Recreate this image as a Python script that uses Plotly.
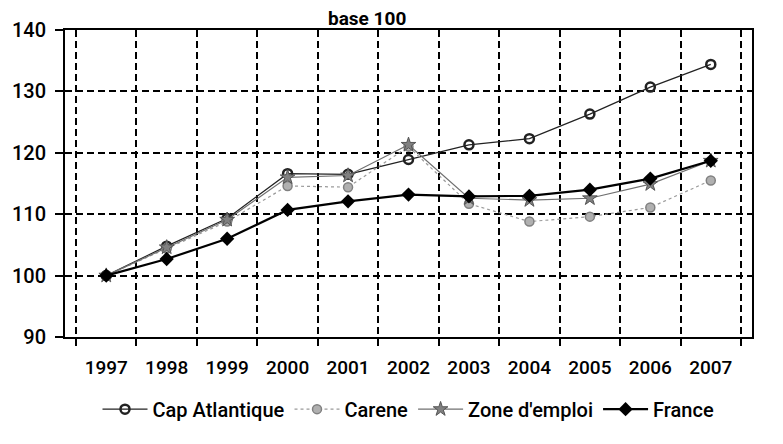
import plotly.graph_objects as go

years = ["1997", "1998", "1999", "2000", "2001", "2002", "2003", "2004", "2005", "2006", "2007"]
cap_atlantique = [100, 104.8, 109.3, 116.6, 116.5, 118.9, 121.3, 122.3, 126.3, 130.7, 134.4]
carene = [100, 104.4, 108.8, 114.6, 114.4, 121.0, 111.7, 108.8, 109.6, 111.1, 115.5]
zone_emploi = [100, 104.6, 109.1, 116.0, 116.3, 121.3, 112.6, 112.3, 112.6, 114.9, 118.7]
france = [100, 102.7, 106.0, 110.7, 112.1, 113.2, 112.9, 113.0, 114.0, 115.8, 118.7]
y_ticks = [90, 100, 110, 120, 130, 140]
title_text = "base 100"

FONT = "Roboto, Liberation Sans, sans-serif"

fig = go.Figure()
fig.add_trace(go.Scatter(
    x=years, y=cap_atlantique, name="Cap Atlantique", mode="lines+markers",
    line=dict(color="#222222", width=1.2),
    marker=dict(symbol="circle-open", size=9, color="#222222", line=dict(width=2.5)),
))
fig.add_trace(go.Scatter(
    x=years, y=carene, name="Carene", mode="lines+markers",
    line=dict(color="#9a9a9a", width=1.2, dash="dot"),
    marker=dict(symbol="circle", size=9, color="#b0b0b0", line=dict(color="#808080", width=1.5)),
))
fig.add_trace(go.Scatter(
    x=years, y=zone_emploi, name="Zone d'emploi", mode="lines+markers",
    line=dict(color="#707070", width=1.2),
    marker=dict(symbol="star", size=11, color="#808080", line=dict(color="#555555", width=1)),
))
fig.add_trace(go.Scatter(
    x=years, y=france, name="France", mode="lines+markers",
    line=dict(color="#000000", width=2.2),
    marker=dict(symbol="diamond", size=11, color="#000000"),
))

fig.add_annotation(
    text="<b>" + title_text + "</b>", xref="paper", yref="paper", x=0.44, y=1.0, yshift=12,
    showarrow=False, font=dict(family=FONT, size=19, color="#000000"),
    xanchor="center", yanchor="middle",
)

fig.update_layout(
    width=783, height=444,
    margin=dict(l=57, r=39, t=22, b=115, autoexpand=False),
    paper_bgcolor="white", plot_bgcolor="white",
    font=dict(family=FONT, size=18, color="#000000", weight=500),
    showlegend=True,
    legend=dict(
        orientation="h", x=0.5, xanchor="center", y=-0.235, yanchor="middle",
        font=dict(family=FONT, size=20, color="#000000", weight=500),
        itemwidth=45, bgcolor="rgba(0,0,0,0)",
    ),
)
fig.update_xaxes(
    type="category", tickson="boundaries",
    showline=True, linecolor="black", linewidth=2, mirror=True,
    showgrid=True, gridcolor="black", gridwidth=1.6, griddash="7px,4px",
    ticks="outside", ticklen=7, tickcolor="black", tickwidth=1.5,
    ticklabelstandoff=12,
    tickfont=dict(family=FONT, size=19, color="black", weight=500),
)
fig.update_yaxes(
    range=[90, 140], tickvals=y_ticks,
    showline=True, linecolor="black", linewidth=2, mirror=True,
    showgrid=True, gridcolor="black", gridwidth=1.6, griddash="7px,4px",
    ticks="outside", ticklen=8, tickcolor="black", tickwidth=1.5,
    ticklabelstandoff=5,
    tickfont=dict(family=FONT, size=20, color="black", weight=500),
    zeroline=False,
)

fig.write_html("out.html")
